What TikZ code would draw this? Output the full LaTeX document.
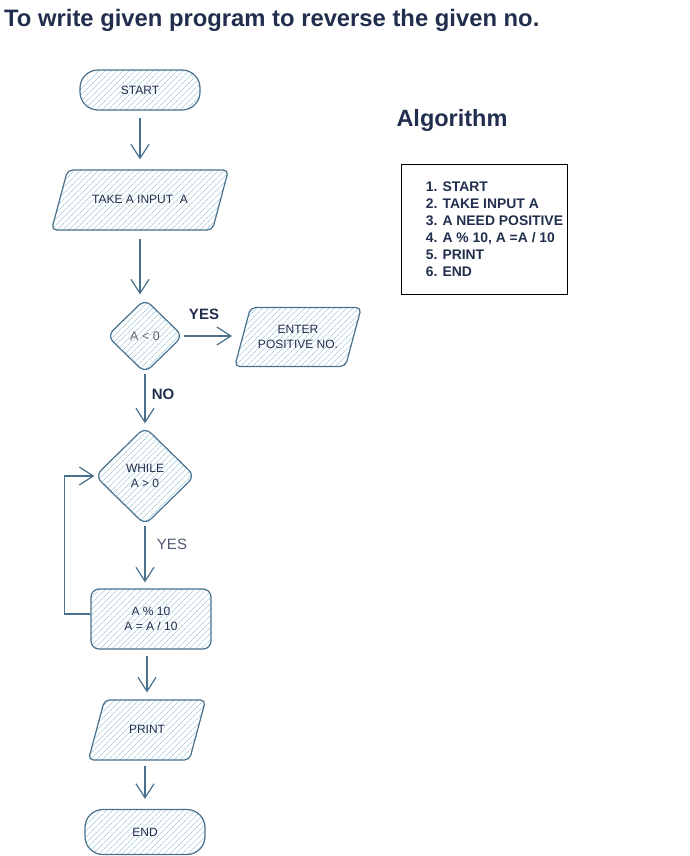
\documentclass[tikz,border=0pt]{standalone}
\usepackage{fontspec}
\setmainfont{Liberation Sans}
\usepackage{tikz}
\usetikzlibrary{shapes,arrows.meta,positioning,patterns.meta}
\definecolor{ink}{RGB}{33,46,77}
\definecolor{edge}{RGB}{72,112,140}
\definecolor{hatch}{RGB}{172,208,224}
\definecolor{mute}{RGB}{95,100,110}

\begin{document}
\begin{tikzpicture}[
    x=1pt, y=-1pt,
    flow/.style={draw=edge, line width=1.2pt, text=ink, align=center, inner sep=0pt,
        font=\fontsize{12}{14.5}\selectfont,
        pattern={Lines[angle=45,distance=4pt,line width=0.7pt]}, pattern color=hatch},
    terminal/.style={flow, rectangle, rounded corners=18pt, minimum width=120pt, minimum height=40pt},
    process/.style={flow, rectangle, rounded corners=8pt, minimum width=120pt, minimum height=60pt},
    io/.style={flow, trapezium, trapezium left angle=75, trapezium right angle=105, rounded corners=5pt},
    decision/.style={flow, diamond, rounded corners=8pt},
    arrow/.style={draw=edge, line width=1.2pt, -{Straight Barb[length=14pt,width=18pt]}},
    tag/.style={text=ink, font=\fontsize{15}{18}\selectfont\bfseries}
]
    \useasboundingbox (0,0) rectangle (690,856);

    \node[anchor=base west, inner sep=0pt, text=ink, font=\fontsize{23.8}{27}\selectfont\bfseries] (title)
        at (4,27) {To write given program to reverse the given no.};

    \node[terminal] (start) at (140,90) {START};
    \node[io, inner xsep=24.5pt, inner ysep=24pt, text height=9pt, text depth=3pt] (input) at (140,200) {TAKE A INPUT\ \ A};
    \node[decision, minimum width=76pt, minimum height=74pt, text=mute, font=\fontsize{12.5}{15}\selectfont] (neg)
        at (145,336) {A < 0};
    \node[io, inner xsep=7.5pt, inner ysep=18pt] (warn) at (298,337) {ENTER\\POSITIVE NO.};
    \node[decision, minimum width=100pt, minimum height=98pt] (loop) at (145,476) {WHILE\\A > 0};
    \node[process] (calc) at (151,619) {A \% 10\\A = A / 10};
    \node[io, inner xsep=24.5pt, inner ysep=24pt, text height=9pt, text depth=3pt] (print) at (147,730) {PRINT};
    \node[terminal, minimum height=45pt] (stop) at (145,832) {END};

    \draw[arrow, shorten <=8pt, shorten >=10pt] (start) -- (input);
    \draw[arrow, shorten <=8pt, shorten >=4pt] (input.south) -- (input.south |- neg.north);
    \draw[arrow, shorten >=10pt] (neg.east) -- (neg.east -| warn.west);
    \draw[arrow, shorten >=3pt] (neg) -- (loop);
    \draw[arrow, shorten >=6pt] (loop.south) -- (loop.south |- calc.north);
    \draw[arrow] ([yshift=5pt]calc.west) -- ++(-26,0) |- (loop.west);
    \draw[arrow, shorten <=6pt, shorten >=7pt] (print.north |- calc.south) -- (print.north);
    \draw[arrow, shorten <=5pt, shorten >=10pt] (stop.north |- print.south) -- (stop.north);

    \node[tag] (yes) at (204,314) {YES};
    \node[tag] (no) at (163,394) {NO};
    \node[text=ink!80, font=\fontsize{15}{18}\selectfont] (again) at (172,544) {YES};

    \node[anchor=base, text=ink, font=\fontsize{23.5}{26}\selectfont\bfseries] (algo) at (452,127) {Algorithm};
    \node[draw=black, line width=0.8pt, minimum width=166pt, minimum height=130pt] (algobox) at (484,229) {};
    \node[right=25pt of algobox.west, inner sep=0pt, align=left, text=ink,
        font=\fontsize{13.9}{17}\selectfont\bfseries] (steps)
        {1. START\\2. TAKE INPUT A\\3. A NEED POSITIVE\\4. A \% 10, A =A / 10\\5. PRINT\\6. END};
\end{tikzpicture}
\end{document}
